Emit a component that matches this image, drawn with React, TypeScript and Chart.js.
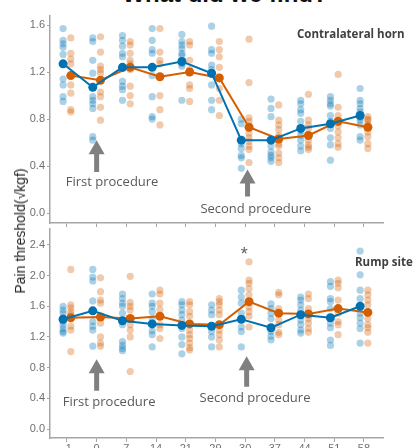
import React, { useEffect, useRef } from "react";
import { Chart, registerables } from "chart.js";

Chart.register(...registerables);

// ---------- data ----------
const DAYS = ["-1", "0", "7", "14", "21", "29", "30", "37", "44", "51", "58"];
const TOP_TICKS = [0, 0.4, 0.8, 1.2, 1.6];
const BOTTOM_TICKS = [0, 0.4, 0.8, 1.2, 1.6, 2.0, 2.4];

const TOP_BLUE_MEAN = [1.27, 1.07, 1.24, 1.24, 1.29, 1.19, 0.62, 0.62, 0.72, 0.76, 0.83];
const TOP_ORANGE_MEAN = [1.17, 1.13, 1.24, 1.16, 1.2, 1.15, 0.73, 0.63, 0.66, 0.78, 0.73];

const TOP_BLUE_PTS = [
  [1.57, 1.47, 1.44, 1.41, 1.35, 1.27, 1.14, 1.09, 0.99, 0.95],
  [1.49, 1.46, 1.3, 1.19, 0.99, 0.96, 0.93, 0.89, 0.65, 0.62],
  [1.51, 1.47, 1.42, 1.36, 1.33, 1.23, 1.12, 1.08, 1.05, 0.96],
  [1.57, 1.47, 1.39, 1.36, 1.24, 1.17, 0.99, 0.82, 0.8],
  [1.52, 1.46, 1.43, 1.4, 1.36, 1.34, 1.27, 1.25, 0.96],
  [1.59, 1.39, 1.36, 1.26, 1.22, 1.18, 1.09, 0.96, 0.88],
  [0.8, 0.76, 0.62, 0.59, 0.55, 0.49, 0.47, 0.38],
  [0.97, 0.89, 0.82, 0.62, 0.57, 0.52, 0.49, 0.47, 0.44],
  [0.96, 0.93, 0.88, 0.85, 0.78, 0.7, 0.66, 0.62, 0.57, 0.53],
  [0.99, 0.96, 0.93, 0.91, 0.83, 0.78, 0.72, 0.64, 0.58, 0.45],
  [1.06, 0.96, 0.93, 0.89, 0.86, 0.81, 0.79, 0.75, 0.65, 0.62],
];
const TOP_ORANGE_PTS = [
  [1.49, 1.36, 1.31, 1.27, 1.17, 1.09, 1.02, 0.88, 0.86],
  [1.5, 1.37, 1.25, 1.22, 1.19, 1.03, 0.99, 0.9, 0.79],
  [1.46, 1.43, 1.36, 1.3, 1.27, 1.22, 1.08, 1.0, 0.93],
  [1.57, 1.37, 1.3, 1.27, 1.16, 1.0, 0.88, 0.75],
  [1.46, 1.43, 1.3, 1.22, 1.2, 1.09, 1.06, 0.95],
  [1.46, 1.39, 1.33, 1.24, 1.15, 1.06, 0.96, 0.83],
  [1.48, 1.11, 0.81, 0.78, 0.68, 0.64, 0.61, 0.57, 0.54, 0.43],
  [0.92, 0.79, 0.75, 0.71, 0.66, 0.59, 0.57, 0.51, 0.47, 0.43],
  [1.01, 0.79, 0.75, 0.72, 0.66, 0.62, 0.58, 0.56, 0.54],
  [1.18, 0.9, 0.83, 0.79, 0.74, 0.69, 0.64, 0.59, 0.56],
  [0.82, 0.8, 0.79, 0.76, 0.69, 0.65, 0.59, 0.55],
];

const BOTTOM_BLUE_MEAN = [1.43, 1.54, 1.41, 1.37, 1.35, 1.34, 1.43, 1.32, 1.49, 1.45, 1.6];
const BOTTOM_ORANGE_MEAN = [1.45, 1.46, 1.44, 1.47, 1.37, 1.36, 1.66, 1.51, 1.5, 1.57, 1.52];

const BOTTOM_BLUE_PTS = [
  [1.6, 1.55, 1.51, 1.45, 1.4, 1.36, 1.31, 1.27, 1.25],
  [2.08, 1.98, 1.93, 1.67, 1.4, 1.34, 1.29, 1.08],
  [1.76, 1.7, 1.64, 1.6, 1.51, 1.36, 1.14, 1.09, 1.05, 1.02],
  [1.76, 1.64, 1.6, 1.53, 1.44, 1.28, 1.23, 1.07],
  [1.66, 1.62, 1.55, 1.49, 1.42, 1.31, 1.2, 1.1, 0.98],
  [1.62, 1.55, 1.49, 1.35, 1.27, 1.2, 1.07],
  [1.81, 1.72, 1.64, 1.51, 1.33, 1.27, 1.07],
  [1.63, 1.57, 1.51, 1.44, 1.27, 1.21, 1.16],
  [1.72, 1.68, 1.62, 1.55, 1.42, 1.36, 1.29, 1.25],
  [1.92, 1.86, 1.7, 1.66, 1.57, 1.38, 1.32, 1.16, 1.09],
  [2.32, 2.01, 1.81, 1.7, 1.51, 1.45, 1.38, 1.31, 1.12],
];
const BOTTOM_ORANGE_PTS = [
  [2.08, 1.62, 1.58, 1.53, 1.49, 1.34, 1.29, 1.01],
  [1.97, 1.79, 1.68, 1.64, 1.38, 1.2, 1.12, 1.08],
  [1.99, 1.65, 1.6, 1.55, 1.36, 1.29, 1.2, 0.75],
  [1.81, 1.76, 1.64, 1.56, 1.36, 1.31, 1.18],
  [1.66, 1.62, 1.53, 1.47, 1.29, 1.23, 1.18, 1.12, 1.06, 1.03],
  [1.7, 1.66, 1.62, 1.55, 1.49, 1.29, 1.23, 1.16, 1.07],
  [2.18, 1.94, 1.9, 1.83, 1.75, 1.59, 1.53, 1.47, 1.33],
  [1.78, 1.75, 1.57, 1.42, 1.36, 1.26, 1.23],
  [1.76, 1.7, 1.57, 1.44, 1.38, 1.31, 1.26],
  [1.94, 1.9, 1.84, 1.68, 1.51, 1.4, 1.36, 1.23],
  [1.81, 1.75, 1.68, 1.62, 1.44, 1.36, 1.32, 1.26, 1.12],
];

// annotations (data coordinates: x = category index, y = value)
const TOP_ARROWS = [
  { x: 1.0, yTop: 0.62, yBottom: 0.35 },
  { x: 6.08, yTop: 0.37, yBottom: 0.14 },
];
const TOP_NOTES = [
  { text: "First procedure", x: 1.52, y: 0.26 },
  { text: "Second procedure", x: 6.36, y: 0.03 },
];
const BOTTOM_ARROWS = [
  { x: 1.0, yTop: 0.91, yBottom: 0.5 },
  { x: 6.05, yTop: 0.95, yBottom: 0.55 },
];
const BOTTOM_NOTES = [
  { text: "First procedure", x: 1.42, y: 0.35 },
  { text: "Second procedure", x: 6.33, y: 0.4 },
];
const BOTTOM_MARKS = [{ text: "*", x: 5.97, y: 2.27 }];

// ---------- styling ----------
const BLUE = "#0072B2";
const ORANGE = "#D55E00";
const BLUE_LIGHT = "rgba(0,114,178,0.33)";
const ORANGE_LIGHT = "rgba(213,94,0,0.33)";
const SHIFT = 0.13;
const AXIS = "#a6a6a6";
const TICK_TXT = "#707070";

function pts(arrs: number[][], shift: number) {
  return arrs.flatMap((a, i) => a.map((v) => ({ x: i + shift, y: v })));
}
function means(arr: number[], shift: number) {
  return arr.map((v, i) => ({ x: i + shift, y: v }));
}

function annotPlugin(arrows: any[], notes: any[], marks: any[]) {
  return {
    id: "annot",
    afterDatasetsDraw(chart: any) {
      const { ctx } = chart;
      const xs = chart.scales.x;
      const ys = chart.scales.y;
      ctx.save();
      ctx.fillStyle = "#808080";
      for (const a of arrows) {
        const px = xs.getPixelForValue(a.x);
        const top = ys.getPixelForValue(a.yTop);
        const bot = ys.getPixelForValue(a.yBottom);
        const headH = 14, headW = 16, shaftW = 5;
        ctx.beginPath();
        ctx.moveTo(px, top);
        ctx.lineTo(px + headW / 2, top + headH);
        ctx.lineTo(px + shaftW / 2, top + headH);
        ctx.lineTo(px + shaftW / 2, bot);
        ctx.lineTo(px - shaftW / 2, bot);
        ctx.lineTo(px - shaftW / 2, top + headH);
        ctx.lineTo(px - headW / 2, top + headH);
        ctx.closePath();
        ctx.fill();
      }
      ctx.textAlign = "center";
      ctx.textBaseline = "middle";
      ctx.fillStyle = "#5a5a5a";
      ctx.font = '13px "Open Sans"';
      for (const t of notes) {
        ctx.fillText(t.text, xs.getPixelForValue(t.x), ys.getPixelForValue(t.y));
      }
      ctx.font = '18px "Liberation Sans"';
      ctx.fillStyle = "#606060";
      for (const t of marks) {
        ctx.fillText(t.text, xs.getPixelForValue(t.x), ys.getPixelForValue(t.y));
      }
      ctx.restore();
    },
  };
}

function buildConfig(o: any) {
  return {
    type: "scatter",
    data: {
      datasets: [
        {
          data: means(o.blueMean, -SHIFT),
          showLine: true,
          borderColor: BLUE,
          backgroundColor: BLUE,
          borderWidth: 2,
          pointRadius: 4.5,
          pointBorderWidth: 0,
          clip: false,
        },
        {
          data: means(o.orangeMean, SHIFT),
          showLine: true,
          borderColor: ORANGE,
          backgroundColor: ORANGE,
          borderWidth: 2,
          pointRadius: 4.5,
          pointBorderWidth: 0,
          clip: false,
        },
        {
          data: pts(o.bluePts, -SHIFT),
          backgroundColor: BLUE_LIGHT,
          pointRadius: 3.6,
          pointBorderWidth: 0,
          clip: false,
        },
        {
          data: pts(o.orangePts, SHIFT),
          backgroundColor: ORANGE_LIGHT,
          pointRadius: 3.6,
          pointBorderWidth: 0,
          clip: false,
        },
      ],
    },
    options: {
      responsive: false,
      maintainAspectRatio: false,
      animation: false,
      devicePixelRatio: 1,
      layout: { autoPadding: false, padding: { top: o.padTop, right: 37, left: 0, bottom: 0 } },
      plugins: { legend: { display: false }, tooltip: { enabled: false } },
      scales: {
        x: {
          type: "linear",
          min: -0.57,
          max: 10.64,
          afterBuildTicks: (s: any) => {
            s.ticks = DAYS.map((_, i) => ({ value: i }));
          },
          afterFit: (s: any) => {
            s.height = o.xHeight;
            s.paddingLeft = 0;
            s.paddingRight = 0;
            s.paddingTop = 0;
            s.paddingBottom = 0;
          },
          ticks: {
            display: o.showX,
            callback: (v: any) => DAYS[Math.round(v)],
            color: TICK_TXT,
            font: { family: "Liberation Sans", size: 11 },
            padding: 0,
            maxRotation: 0,
            autoSkip: false,
          },
          grid: { display: true, drawOnChartArea: false, drawTicks: true, tickLength: 4, color: AXIS },
          border: { display: true, color: AXIS, width: 1.5 },
        },
        y: {
          type: "linear",
          min: o.yMin,
          max: o.yMax,
          afterBuildTicks: (s: any) => {
            s.ticks = o.yTicks.map((v: number) => ({ value: v }));
          },
          afterFit: (s: any) => {
            s.width = 50;
            s.paddingLeft = 0;
            s.paddingRight = 0;
            s.paddingTop = 0;
            s.paddingBottom = 0;
          },
          ticks: {
            callback: (v: any) => Number(v).toFixed(1),
            color: TICK_TXT,
            font: { family: "Liberation Sans", size: 11 },
            padding: 2,
          },
          grid: { display: true, drawOnChartArea: false, drawTicks: true, tickLength: 3, color: AXIS },
          border: { display: true, color: AXIS, width: 1.5 },
        },
      },
    },
    plugins: [annotPlugin(o.arrows, o.notes, o.marks)],
  };
}

export default function App() {
  const topRef = useRef<HTMLCanvasElement>(null);
  const botRef = useRef<HTMLCanvasElement>(null);

  useEffect(() => {
    const top = new Chart(
      topRef.current as any,
      buildConfig({
        blueMean: TOP_BLUE_MEAN,
        orangeMean: TOP_ORANGE_MEAN,
        bluePts: TOP_BLUE_PTS,
        orangePts: TOP_ORANGE_PTS,
        yMin: -0.085,
        yMax: 1.677,
        yTicks: TOP_TICKS,
        padTop: 16,
        xHeight: 5,
        showX: false,
        arrows: TOP_ARROWS,
        notes: TOP_NOTES,
        marks: [],
      }) as any
    );
    const bot = new Chart(
      botRef.current as any,
      buildConfig({
        blueMean: BOTTOM_BLUE_MEAN,
        orangeMean: BOTTOM_ORANGE_MEAN,
        bluePts: BOTTOM_BLUE_PTS,
        orangePts: BOTTOM_ORANGE_PTS,
        yMin: -0.117,
        yMax: 2.62,
        yTicks: BOTTOM_TICKS,
        padTop: 0,
        xHeight: 10,
        showX: true,
        arrows: BOTTOM_ARROWS,
        notes: BOTTOM_NOTES,
        marks: BOTTOM_MARKS,
      }) as any
    );
    return () => {
      top.destroy();
      bot.destroy();
    };
  }, []);

  return (
    <div
      style={{
        position: "fixed",
        left: 0,
        top: 0,
        width: 420,
        height: 448,
        background: "#fff",
        overflow: "hidden",
      }}
    >
      <div
        style={{
          position: "absolute",
          top: -18,
          left: 0,
          width: 450,
          textAlign: "center",
          font: 'bold 24px "Liberation Sans"',
          lineHeight: "24px",
          color: "#111",
          whiteSpace: "nowrap",
        }}
      >
        What did we find?
      </div>
      <canvas
        ref={topRef}
        width={420}
        height={228}
        style={{ position: "absolute", left: 0, top: 0, width: 420, height: 228 }}
      />
      <canvas
        ref={botRef}
        width={420}
        height={220}
        style={{ position: "absolute", left: 0, top: 228, width: 420, height: 220 }}
      />
      <div
        style={{
          position: "absolute",
          left: 20,
          top: 231,
          transform: "translate(-50%, -50%) rotate(-90deg)",
          font: '14px "Liberation Sans"',
          color: "#222",
          whiteSpace: "nowrap",
        }}
      >
        Pain threshold(√kgf)
      </div>
      <div
        style={{
          position: "absolute",
          left: 297,
          top: 26,
          font: 'bold 11.5px "Open Sans"',
          color: "#404040",
          whiteSpace: "nowrap",
        }}
      >
        Contralateral horn
      </div>
      <div
        style={{
          position: "absolute",
          left: 355,
          top: 254,
          font: 'bold 11.5px "Open Sans"',
          color: "#404040",
          whiteSpace: "nowrap",
        }}
      >
        Rump site
      </div>
    </div>
  );
}
